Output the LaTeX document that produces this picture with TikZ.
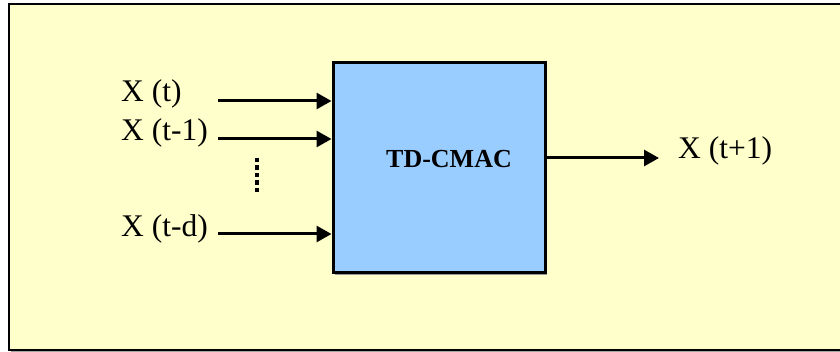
\documentclass[tikz,border=0pt]{standalone}
\usepackage{fontspec}
\setmainfont{Liberation Serif}
\usetikzlibrary{arrows.meta}
\definecolor{bgyellow}{HTML}{FFFFCC}
\definecolor{boxblue}{HTML}{99CCFF}
\begin{document}
\begin{tikzpicture}[x=1pt,y=-1pt,
  lbl/.style={inner sep=0pt,anchor=base west,font=\fontsize{31.5}{36}\selectfont},
  arr/.style={line width=3pt,-{Triangle[length=15pt,width=16pt]}}]
\useasboundingbox (0,0) rectangle (840,352);
% frame
\fill[gray!70] (11,6) rectangle (847,352);
\draw[line width=2pt,fill=bgyellow] (9,4) rectangle (845,350);
% box shadow
\fill[gray!80] (335,65) rectangle (547,275);
\node[draw,line width=3pt,fill=boxblue,minimum width=212pt,minimum height=210pt,inner sep=0pt] (box) at (439,168) {};
\node[inner sep=0pt,anchor=base,font=\fontsize{26}{30}\selectfont\bfseries] (title) at (449,168) {TD-CMAC};
% input labels
\node[lbl] (x0) at (121,102) {X (t)};
\node[lbl] (x1) at (121,141) {X (t-1)};
\node[lbl] (xd) at (121,237) {X (t-d)};
\node[lbl] (xo) at (678,159) {X (t+1)};
% arrows
\coordinate (s0) at (218,101);
\coordinate (s1) at (218,139);
\coordinate (sd) at (218,234);
\coordinate (oe) at (659,158);
\draw[arr] (s0) -- (s0 -| box.west);
\draw[arr] (s1) -- (s1 -| box.west);
\draw[arr] (sd) -- (sd -| box.west);
\draw[arr] (oe -| box.east) -- (oe);
% dots
\coordinate (d1) at (257,158);
\coordinate (d2) at (257,195);
\draw[line width=4.5pt,dash pattern=on 4.5pt off 3pt] (d1) -- (d2);
\end{tikzpicture}
\end{document}
